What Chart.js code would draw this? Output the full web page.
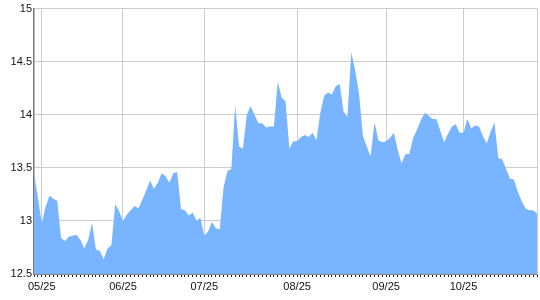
<!DOCTYPE html>
<html>
<head>
<meta charset="utf-8">
<script src="https://cdn.jsdelivr.net/npm/chart.js@4/dist/chart.umd.min.js"></script>
<style>
html,body{margin:0;padding:0;background:#fff;}
canvas{display:block;}
</style>
</head>
<body>
<canvas id="c" width="540" height="300"></canvas>
<script>
const values = [
13.45,13.22,12.98,13.13,13.24,13.21,13.19,12.84,12.81,12.85,
12.86,12.87,12.82,12.74,12.82,12.98,12.73,12.72,12.64,12.74,
12.77,13.16,13.09,13.00,13.06,13.10,13.14,13.12,13.20,13.29,
13.38,13.30,13.36,13.45,13.42,13.36,13.45,13.46,13.11,13.10,
13.05,13.08,13.00,13.03,12.86,12.90,12.99,12.93,12.92,13.32,
13.47,13.49,14.09,13.70,13.68,14.00,14.08,14.00,13.92,13.92,
13.88,13.89,13.89,14.31,14.16,14.13,13.68,13.75,13.75,13.79,
13.81,13.79,13.83,13.76,14.02,14.18,14.21,14.19,14.27,14.29,
14.03,13.98,14.59,14.42,14.20,13.80,13.70,13.61,13.93,13.76,
13.74,13.75,13.78,13.83,13.67,13.54,13.63,13.63,13.78,13.86,
13.95,14.02,13.99,13.96,13.96,13.85,13.74,13.82,13.89,13.91,
13.83,13.83,13.96,13.87,13.90,13.89,13.80,13.73,13.84,13.93,
13.59,13.58,13.49,13.40,13.39,13.28,13.19,13.12,13.10,13.10,
13.07
];
const tickLabels = ['05/25','06/25','07/25','08/25','09/25','10/25'];
const tickIndices = [2,23,44,68,91,111];
const yTicks = [12.5,13,13.5,14,14.5,15];

const categories = values.map(() => '');
tickIndices.forEach((idx, k) => { categories[idx] = tickLabels[k]; });

const FONT = {family: '"Liberation Sans", Arial, sans-serif', size: 11};

new Chart(document.getElementById('c'), {
  type: 'line',
  data: {
    labels: categories,
    datasets: [{
      data: values,
      fill: 'start',
      backgroundColor: '#78b4ff',
      borderColor: '#78b4ff',
      borderWidth: 0,
      pointRadius: 0,
      tension: 0
    }]
  },
  options: {
    responsive: false,
    animation: false,
    layout: {padding: {top: 8, right: 0, left: 0, bottom: 0}},
    plugins: {legend: {display: false}, tooltip: {enabled: false}},
    scales: {
      x: {
        type: 'category',
        offset: false,
        afterFit: s => { s.height = 26; },
        border: {display: true, color: '#888', width: 1},
        grid: {
          drawOnChartArea: true,
          drawTicks: true,
          tickLength: 3,
          color: ctx => (tickIndices.includes(ctx.index) || ctx.index === values.length - 1) ? '#cccccc' : 'rgba(0,0,0,0)',
          tickColor: '#222'
        },
        ticks: {
          autoSkip: false,
          maxRotation: 0,
          minRotation: 0,
          padding: 3,
          color: '#111',
          font: FONT,
          callback: function(v, i) { return categories[i]; }
        }
      },
      y: {
        min: 12.5,
        max: 15,
        afterFit: s => { s.width = 34; },
        afterBuildTicks: s => { s.ticks = yTicks.map(v => ({value: v})); },
        border: {display: true, color: '#777', width: 1.5},
        grid: {color: '#cccccc', drawTicks: false},
        ticks: {
          padding: 2,
          color: '#111',
          font: FONT,
          callback: v => String(v)
        }
      }
    }
  }
});
</script>
</body>
</html>
